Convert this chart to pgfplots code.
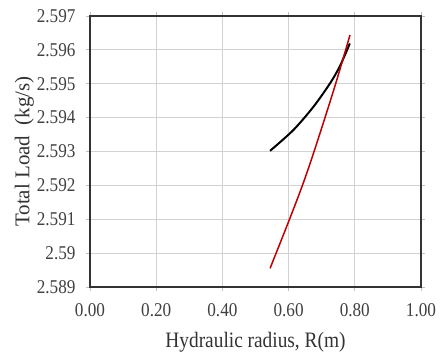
\documentclass[border=0pt]{standalone}
\usepackage{fontspec}
\setmainfont{Liberation Serif}
\newfontfamily\condfont[FakeStretch=0.88]{Liberation Serif}
\usepackage{pgfplots}
\pgfplotsset{compat=1.18}
\begin{document}
\begin{tikzpicture}
\begin{axis}[
  scale only axis,
  width=331pt, height=271pt,
  xmin=0, xmax=1, ymin=2.589, ymax=2.597,
  xtick={0,0.2,0.4,0.6,0.8,1.0},
  xticklabels={0.00,0.20,0.40,0.60,0.80,1.00},
  ytick={2.589,2.590,2.591,2.592,2.593,2.594,2.595,2.596,2.597},
  yticklabels={2.589,2.59,2.591,2.592,2.593,2.594,2.595,2.596,2.597},
  grid=major,
  grid style={gray!35, line width=0.8pt},
  axis line style={black!80, line width=1.6pt},
  tick style={gray!50, line width=0.8pt},
  tick align=outside,
  major tick length=4pt,
  ticklabel style={font=\condfont\fontsize{19.5}{21}\selectfont, text=black!75},
  yticklabel style={xshift=-7pt},
  xticklabel style={yshift=-9pt},
  xlabel style={font=\condfont\fontsize{22}{24}\selectfont, text=black!80, yshift=-9pt},
  ylabel style={font=\fontsize{21}{24}\selectfont, text=black!80, yshift=-4pt},
  xlabel={Hydraulic radius, R(m)},
  ylabel={Total Load~ (kg/s)},
  clip=false,
]
\addplot[black, line width=2pt, smooth] coordinates {
 (0.544,2.59302) (0.614,2.59363) (0.675,2.59432) (0.725,2.59501) (0.755,2.59552) (0.785,2.59619)
};
\addplot[red!75!black, line width=1.5pt, smooth] coordinates {
 (0.544,2.58955) (0.604,2.59103) (0.644,2.59206) (0.680,2.59309) (0.739,2.59490) (0.7855,2.59644)
};
\end{axis}
\path (current axis.south west) ++(-90pt,-73pt) coordinate (bbl);
\path (current axis.north east) ++(19pt,16pt) coordinate (btr);
\path[use as bounding box] (bbl) rectangle (btr);
\end{tikzpicture}
\end{document}
